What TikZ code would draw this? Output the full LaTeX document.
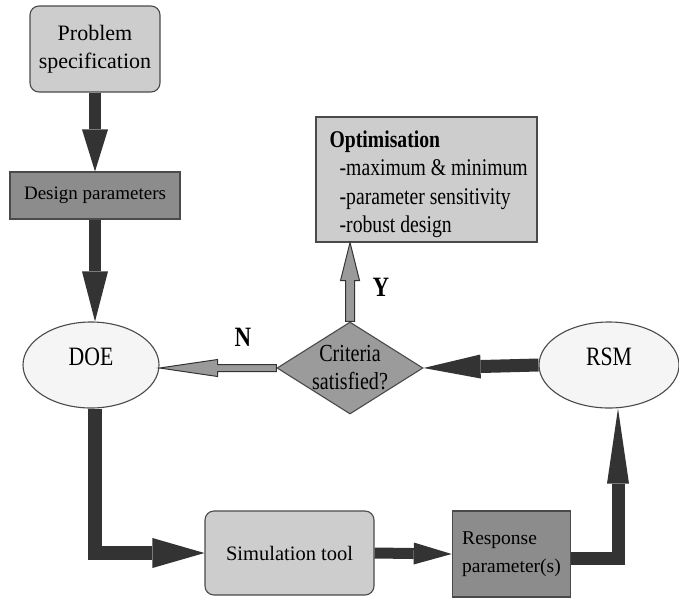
\documentclass[tikz,border=0pt]{standalone}
\usepackage{fontspec}
\setmainfont{Liberation Serif}
\newfontfamily\narrowrm[FakeStretch=0.82]{Liberation Serif}
\usetikzlibrary{shapes.geometric,arrows.meta,calc}

\definecolor{edgegray}{HTML}{4A4A4A}
\definecolor{boxlight}{HTML}{CDCDCD}
\definecolor{boxdark}{HTML}{8C8C8C}
\definecolor{diafill}{HTML}{9B9B9B}
\definecolor{ovalfill}{HTML}{F5F5F5}
\definecolor{arrowdark}{HTML}{333333}
\definecolor{arrowmid}{HTML}{9A9A9A}

\tikzset{
  boxline/.style={draw=edgegray, line width=1.1pt},
  lightbox/.style={boxline, fill=boxlight, inner sep=0pt, align=center},
  darkbox/.style={boxline, fill=boxdark, inner sep=0pt, align=center},
  oval/.style={ellipse, boxline, fill=ovalfill, minimum width=136pt,
    minimum height=86pt, inner sep=0pt},
  ovaltext/.style={font=\narrowrm\fontsize{26.5}{30}\selectfont, yshift=8pt},
  flow/.style={draw=arrowdark, line width=#1, line join=miter},
  outarrow/.style={draw=arrowdark, fill=arrowmid, line width=1pt, line join=miter},
  answer/.style={font=\narrowrm\bfseries\fontsize{28}{30}\selectfont, inner sep=0pt}
}

\begin{document}
\begin{tikzpicture}[x=1pt,y=-1pt]
\useasboundingbox (0,0) rectangle (679,597);

% boxes
\node[lightbox, rounded corners=9pt, minimum width=130pt, minimum height=86pt,
  font=\fontsize{22}{28}\selectfont] (ps) at (95,49) {Problem\\specification};
\node[darkbox, minimum width=170pt, minimum height=47pt,
  font=\fontsize{19}{22}\selectfont] (dp) at (95,195.5) {Design parameters};
\node[oval, label={[ovaltext]center:DOE}] (doe) at (91,365) {};
\node[oval, minimum width=140pt, label={[ovaltext]center:RSM}] (rsm) at (609,365) {};
\node[diamond, boxline, fill=diafill, minimum width=146pt, minimum height=92pt,
  inner sep=0pt, label={[align=center, font=\narrowrm\fontsize{24.5}{28}\selectfont]center:Criteria\\satisfied?}] (dia) at (350,368) {};
\node[lightbox, minimum width=221pt, minimum height=125pt,
  label={[anchor=north west, align=left, inner sep=0pt, xshift=14pt, yshift=-14pt,
    font=\narrowrm\fontsize{24}{28.5}\selectfont]north west:{\bfseries Optimisation}\\
    \hspace*{10pt}-maximum \& minimum\\
    \hspace*{10pt}-parameter sensitivity\\
    \hspace*{10pt}-robust design}] (opt) at (426.5,179.5) {};
\node[lightbox, rounded corners=9pt, minimum width=169pt, minimum height=84pt,
  font=\fontsize{20.5}{24}\selectfont] (sim) at (289.5,553) {Simulation tool};
\node[darkbox, align=left, inner xsep=10pt, minimum width=117pt, minimum height=86pt,
  font=\fontsize{19.5}{28}\selectfont] (resp) at (511.5,554) {Response\\parameter(s)};

% answer labels
\node[answer] (ylab) at (381,287) {Y};
\node[answer] (nlab) at (243,337) {N};

% main flow
\draw[flow=12pt, -{Triangle[length=42pt,width=26pt,line width=0pt]}] (ps.south) -- (dp.north);
\draw[flow=12pt, -{Triangle[length=50pt,width=26pt,line width=0pt]}] (dp.south) -- (dp.south |- doe.north);
\draw[flow=14pt, -{Triangle[length=52pt,width=30pt,line width=0pt]}] ([xshift=4pt]doe.south) |- (sim.west);
\draw[flow=11pt, -{Triangle[length=38pt,width=22pt,line width=0pt]}] (sim.east) -- (resp.west);
\draw[flow=13pt, -{Triangle[length=75pt,width=22pt,line width=0pt]}] ([yshift=-4pt]resp.east) -| ([xshift=9pt]rsm.south);
\draw[flow=13pt, -{Triangle[length=57pt,width=24pt,line width=0pt]}] (rsm.west) -- (dia.east);

% decision outcomes
\draw[outarrow] let \p1=(dia.north), \p2=(opt.south) in
  (\x1-4.5pt,\y1) -- (\x1-4.5pt,\y2-38pt) -- (\x1-9.5pt,\y2-38pt) -- (\x1,\y2)
  -- (\x1+9.5pt,\y2-38pt) -- (\x1+4.5pt,\y2-38pt) -- (\x1+4.5pt,\y1) -- cycle;
\draw[outarrow] let \p1=(dia.west), \p2=(doe.east) in
  (\x1,\y1+3.5pt) -- (\x2+58pt,\y1+3.5pt) -- (\x2+58pt,\y1+8.5pt) -- (\x2,\y1)
  -- (\x2+58pt,\y1-8.5pt) -- (\x2+58pt,\y1-3.5pt) -- (\x1,\y1-3.5pt) -- cycle;
\end{tikzpicture}
\end{document}
